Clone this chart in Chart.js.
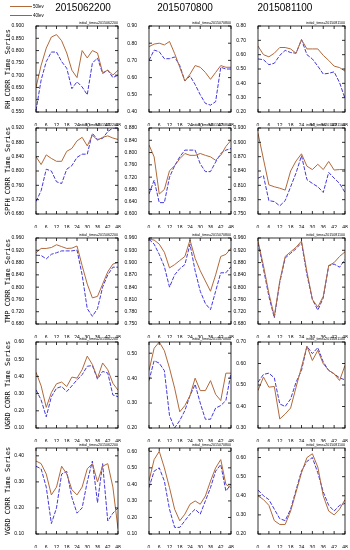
<!DOCTYPE html>
<html>
<head>
<meta charset="utf-8">
<script src="https://cdn.jsdelivr.net/npm/chart.js@4.4.1/dist/chart.umd.min.js"></script>
<style>
  body { margin: 0; background: #fff; width: 350px; height: 550px; position: relative; overflow: hidden; font-family: "Liberation Sans", Arial, sans-serif; }
  canvas { position: absolute; }
  .coltitle { position: absolute; top: 2px; font-size: 10px; color: #000; transform: translateX(-50%); white-space: nowrap; }
  .rowtitle { position: absolute; left: 8px; font-family: "DejaVu Sans Mono", monospace; font-size: 7px; color: #000; white-space: nowrap; transform: translate(-50%, -50%) rotate(-90deg); }
</style>
</head>
<body>
<canvas id="legend" width="60" height="22" style="left:0;top:0"></canvas>

<script>
// forecast hours and axis ticks
const hours = [0, 3, 6, 9, 12, 15, 18, 21, 24, 27, 30, 33, 36, 39, 42, 45, 48];
const hourTicks = [0, 6, 12, 18, 24, 30, 36, 42, 48];
const initTimes = ["2015062200", "2015070800", "2015081100"];
const rowNames = ["RH CORR Time Series", "SPFH CORR Time Series", "TMP CORR Time Series", "UGRD CORR Time Series", "VGRD CORR Time Series"];
const seriesNames = ["50lev", "40lev"];

// RH
const rh50_0622 = [0.65, 0.74, 0.81, 0.855, 0.865, 0.84, 0.79, 0.72, 0.69, 0.80, 0.77, 0.80, 0.79, 0.71, 0.72, 0.70, 0.72];
const rh40_0622 = [0.556, 0.68, 0.755, 0.794, 0.794, 0.755, 0.728, 0.645, 0.673, 0.652, 0.62, 0.749, 0.77, 0.707, 0.72, 0.69, 0.70];
const rh50_0708 = [0.78, 0.795, 0.80, 0.79, 0.81, 0.74, 0.66, 0.58, 0.62, 0.67, 0.66, 0.63, 0.59, 0.63, 0.67, 0.66, 0.66];
const rh40_0708 = [0.70, 0.76, 0.75, 0.71, 0.71, 0.72, 0.67, 0.58, 0.61, 0.56, 0.50, 0.45, 0.44, 0.46, 0.66, 0.65, 0.65];
const rh50_0811 = [0.66, 0.60, 0.585, 0.61, 0.65, 0.65, 0.64, 0.61, 0.705, 0.64, 0.64, 0.64, 0.595, 0.56, 0.52, 0.51, 0.485];
const rh40_0811 = [0.57, 0.565, 0.53, 0.54, 0.595, 0.63, 0.615, 0.61, 0.705, 0.60, 0.57, 0.52, 0.465, 0.47, 0.48, 0.405, 0.295];

// SPFH
const spfh50_0622 = [0.84, 0.818, 0.845, 0.835, 0.827, 0.827, 0.855, 0.863, 0.884, 0.894, 0.87, 0.90, 0.886, 0.894, 0.898, 0.892, 0.888];
const spfh40_0622 = [0.715, 0.745, 0.805, 0.80, 0.77, 0.765, 0.805, 0.815, 0.838, 0.847, 0.847, 0.905, 0.888, 0.891, 0.91, 0.92, 0.92];
const spfh50_0708 = [0.825, 0.786, 0.665, 0.68, 0.741, 0.757, 0.78, 0.797, 0.791, 0.791, 0.797, 0.791, 0.786, 0.775, 0.791, 0.82, 0.84];
const spfh40_0708 = [0.665, 0.71, 0.637, 0.637, 0.72, 0.757, 0.786, 0.808, 0.808, 0.808, 0.763, 0.738, 0.738, 0.769, 0.797, 0.808, 0.813];
const spfh50_0811 = [0.919, 0.865, 0.811, 0.807, 0.804, 0.80, 0.84, 0.861, 0.876, 0.85, 0.843, 0.854, 0.843, 0.86, 0.842, 0.843, 0.843];
const spfh40_0811 = [0.825, 0.83, 0.778, 0.776, 0.767, 0.778, 0.807, 0.836, 0.872, 0.822, 0.814, 0.807, 0.795, 0.837, 0.825, 0.814, 0.795];

// TMP
const tmp50_0622 = [0.912, 0.926, 0.926, 0.929, 0.938, 0.932, 0.926, 0.927, 0.934, 0.87, 0.81, 0.765, 0.77, 0.81, 0.85, 0.875, 0.88];
const tmp40_0622 = [0.904, 0.903, 0.892, 0.907, 0.912, 0.918, 0.918, 0.918, 0.921, 0.84, 0.73, 0.705, 0.73, 0.80, 0.84, 0.865, 0.865];
const tmp50_0708 = [0.957, 0.955, 0.945, 0.925, 0.887, 0.895, 0.905, 0.915, 0.955, 0.91, 0.88, 0.855, 0.83, 0.87, 0.915, 0.92, 0.935];
const tmp40_0708 = [0.957, 0.945, 0.92, 0.89, 0.84, 0.87, 0.885, 0.895, 0.945, 0.88, 0.83, 0.80, 0.785, 0.83, 0.875, 0.875, 0.89];
const tmp50_0811 = [0.95, 0.87, 0.78, 0.705, 0.82, 0.90, 0.915, 0.93, 0.95, 0.85, 0.76, 0.735, 0.77, 0.87, 0.88, 0.90, 0.915];
const tmp40_0811 = [0.945, 0.86, 0.77, 0.70, 0.815, 0.895, 0.91, 0.925, 0.945, 0.84, 0.76, 0.725, 0.765, 0.87, 0.875, 0.865, 0.89];

// UGRD
const ugrd50_0622 = [0.424, 0.345, 0.22, 0.306, 0.357, 0.367, 0.341, 0.396, 0.39, 0.439, 0.518, 0.469, 0.39, 0.478, 0.439, 0.36, 0.32];
const ugrd40_0622 = [0.322, 0.263, 0.165, 0.282, 0.331, 0.341, 0.312, 0.345, 0.38, 0.41, 0.459, 0.463, 0.384, 0.429, 0.42, 0.292, 0.282];
const ugrd50_0708 = [0.43, 0.52, 0.545, 0.51, 0.44, 0.36, 0.265, 0.29, 0.33, 0.40, 0.35, 0.35, 0.39, 0.335, 0.31, 0.42, 0.42];
const ugrd40_0708 = [0.39, 0.47, 0.46, 0.43, 0.25, 0.20, 0.23, 0.27, 0.33, 0.375, 0.30, 0.235, 0.235, 0.28, 0.29, 0.31, 0.42];
const ugrd50_0811 = [0.474, 0.537, 0.49, 0.493, 0.342, 0.365, 0.393, 0.49, 0.583, 0.68, 0.614, 0.661, 0.599, 0.568, 0.552, 0.521, 0.591];
const ugrd40_0811 = [0.513, 0.549, 0.555, 0.533, 0.412, 0.40, 0.435, 0.513, 0.568, 0.68, 0.646, 0.674, 0.607, 0.568, 0.552, 0.533, 0.524];

// VGRD
const vgrd50_0622 = [0.38, 0.37, 0.33, 0.25, 0.28, 0.36, 0.33, 0.27, 0.25, 0.28, 0.35, 0.37, 0.30, 0.36, 0.37, 0.28, 0.12];
const vgrd40_0622 = [0.36, 0.35, 0.28, 0.14, 0.20, 0.33, 0.34, 0.24, 0.18, 0.20, 0.30, 0.38, 0.22, 0.37, 0.15, 0.18, 0.20];
const vgrd50_0708 = [0.42, 0.55, 0.60, 0.50, 0.38, 0.25, 0.18, 0.22, 0.28, 0.30, 0.28, 0.33, 0.42, 0.50, 0.55, 0.40, 0.38];
const vgrd40_0708 = [0.38, 0.48, 0.50, 0.42, 0.25, 0.14, 0.14, 0.18, 0.22, 0.25, 0.22, 0.30, 0.38, 0.48, 0.52, 0.36, 0.40];
const vgrd50_0811 = [0.40, 0.38, 0.35, 0.27, 0.25, 0.25, 0.32, 0.42, 0.52, 0.60, 0.62, 0.55, 0.40, 0.32, 0.30, 0.33, 0.38];
const vgrd40_0811 = [0.43, 0.40, 0.38, 0.33, 0.28, 0.27, 0.33, 0.43, 0.53, 0.58, 0.60, 0.52, 0.42, 0.35, 0.32, 0.35, 0.36];

// y tick labels for each panel
const rhTicks_0622 = [0.55, 0.60, 0.65, 0.70, 0.75, 0.80, 0.85, 0.90];
const rhTicks_0708 = [0.40, 0.50, 0.60, 0.70, 0.80, 0.90];
const rhTicks_0811 = [0.20, 0.30, 0.40, 0.50, 0.60, 0.70, 0.80];
const spfhTicks_0622 = [0.68, 0.72, 0.76, 0.80, 0.84, 0.88, 0.92];
const spfhTicks_0708 = [0.60, 0.64, 0.68, 0.72, 0.76, 0.80, 0.84, 0.88];
const spfhTicks_0811 = [0.75, 0.78, 0.81, 0.84, 0.87, 0.90, 0.93];
const tmpTicks_0622 = [0.68, 0.72, 0.76, 0.80, 0.84, 0.88, 0.92, 0.96];
const tmpTicks_0708 = [0.75, 0.78, 0.81, 0.84, 0.87, 0.90, 0.93, 0.96];
const tmpTicks_0811 = [0.68, 0.72, 0.76, 0.80, 0.84, 0.88, 0.92, 0.96];
const ugrdTicks_0622 = [0.10, 0.20, 0.30, 0.40, 0.50, 0.60];
const ugrdTicks_0708 = [0.20, 0.30, 0.40, 0.50];
const ugrdTicks_0811 = [0.30, 0.40, 0.50, 0.60, 0.70];
const vgrdTicks_0622 = [0.10, 0.20, 0.30, 0.40];
const vgrdTicks_0708 = [0.10, 0.20, 0.30, 0.40, 0.50, 0.60];
const vgrdTicks_0811 = [0.20, 0.30, 0.40, 0.50, 0.60];

const brown = "#b0693a";
const blue = "#4238dc";
const magenta = "#e020e0";

// plot boxes (page pixels)
const colBox = [{ left: 36, width: 82 }, { left: 149, width: 82 }, { left: 258, width: 87 }];
const rowTop = [26, 128, 238, 342, 448];
const plotH = 86;
const colTitleX = [83, 185, 285];

const panels = [
  { r: 0, c: 0, a: rh50_0622, b: rh40_0622, min: 0.55, max: 0.90, ticks: rhTicks_0622, dec: 3 },
  { r: 0, c: 1, a: rh50_0708, b: rh40_0708, min: 0.40, max: 0.90, ticks: rhTicks_0708, dec: 2 },
  { r: 0, c: 2, a: rh50_0811, b: rh40_0811, min: 0.20, max: 0.80, ticks: rhTicks_0811, dec: 2 },
  { r: 1, c: 0, a: spfh50_0622, b: spfh40_0622, min: 0.68, max: 0.92, ticks: spfhTicks_0622, dec: 3 },
  { r: 1, c: 1, a: spfh50_0708, b: spfh40_0708, min: 0.60, max: 0.88, ticks: spfhTicks_0708, dec: 3 },
  { r: 1, c: 2, a: spfh50_0811, b: spfh40_0811, min: 0.75, max: 0.93, ticks: spfhTicks_0811, dec: 3 },
  { r: 2, c: 0, a: tmp50_0622, b: tmp40_0622, min: 0.68, max: 0.96, ticks: tmpTicks_0622, dec: 3 },
  { r: 2, c: 1, a: tmp50_0708, b: tmp40_0708, min: 0.75, max: 0.96, ticks: tmpTicks_0708, dec: 3 },
  { r: 2, c: 2, a: tmp50_0811, b: tmp40_0811, min: 0.68, max: 0.96, ticks: tmpTicks_0811, dec: 3 },
  { r: 3, c: 0, a: ugrd50_0622, b: ugrd40_0622, min: 0.10, max: 0.60, ticks: ugrdTicks_0622, dec: 2 },
  { r: 3, c: 1, a: ugrd50_0708, b: ugrd40_0708, min: 0.20, max: 0.545, ticks: ugrdTicks_0708, dec: 2 },
  { r: 3, c: 2, a: ugrd50_0811, b: ugrd40_0811, min: 0.30, max: 0.70, ticks: ugrdTicks_0811, dec: 2 },
  { r: 4, c: 0, a: vgrd50_0622, b: vgrd40_0622, min: 0.10, max: 0.43, ticks: vgrdTicks_0622, dec: 2 },
  { r: 4, c: 1, a: vgrd50_0708, b: vgrd40_0708, min: 0.10, max: 0.62, ticks: vgrdTicks_0708, dec: 2 },
  { r: 4, c: 2, a: vgrd50_0811, b: vgrd40_0811, min: 0.20, max: 0.65, ticks: vgrdTicks_0811, dec: 2 },
];

// frame with inward ticks on all four sides + initial_time note
const framePlugin = {
  id: "frame",
  afterDatasetsDraw(chart, args, opts) {
    const { ctx, chartArea: a, scales } = chart;
    ctx.save();
    ctx.strokeStyle = "#000";
    ctx.lineWidth = 0.8;
    ctx.strokeRect(a.left, a.top, a.right - a.left, a.bottom - a.top);
    ctx.beginPath();
    scales.x.ticks.forEach(t => {
      const x = scales.x.getPixelForValue(t.value);
      ctx.moveTo(x, a.bottom); ctx.lineTo(x, a.bottom - 3);
      ctx.moveTo(x, a.top); ctx.lineTo(x, a.top + 3);
    });
    scales.y.ticks.forEach(t => {
      const y = scales.y.getPixelForValue(t.value);
      ctx.moveTo(a.left, y); ctx.lineTo(a.left + 3, y);
      ctx.moveTo(a.right, y); ctx.lineTo(a.right - 3, y);
    });
    ctx.stroke();
    ctx.fillStyle = "#000";
    ctx.font = "3.6px 'Liberation Sans', Arial, sans-serif";
    ctx.textAlign = "right";
    ctx.textBaseline = "bottom";
    ctx.fillText("initial_time=" + opts.init, a.right, a.top - 1);
    ctx.restore();
  }
};

panels.forEach(p => {
  const box = colBox[p.c];
  const cv = document.createElement("canvas");
  const padL = 36, padT = 10, padR = 8, padB = 14;
  cv.width = box.width + padL + padR;
  cv.height = plotH + padT + padB;
  cv.style.left = (box.left - padL) + "px";
  cv.style.top = (rowTop[p.r] - padT) + "px";
  document.body.appendChild(cv);

  new Chart(cv.getContext("2d"), {
    type: "line",
    data: {
      datasets: [
        {
          label: seriesNames[0],
          data: hours.map((h, i) => ({ x: h, y: p.a[i] })),
          borderColor: brown,
          borderWidth: 1,
          pointRadius: 0,
          tension: 0,
        },
        {
          label: seriesNames[1],
          data: hours.map((h, i) => ({ x: h, y: p.b[i] })),
          borderColor: blue,
          borderWidth: 1,
          borderDash: [4, 1.5],
          pointRadius: 0,
          tension: 0,
        },
      ],
    },
    options: {
      responsive: false,
      animation: false,
      devicePixelRatio: 1,
      layout: { padding: { top: padT, right: padR, left: 0, bottom: 0 } },
      plugins: {
        legend: { display: false },
        tooltip: { enabled: false },
        frame: { init: initTimes[p.c] },
      },
      scales: {
        x: {
          type: "linear",
          min: 0,
          max: 48,
          afterBuildTicks: s => { s.ticks = hourTicks.map(v => ({ value: v })); },
          afterFit: s => { s.height = padB; },
          grid: { display: false },
          border: { display: false },
          ticks: { font: { size: 5 }, color: "#000", padding: 3, maxRotation: 0 },
        },
        y: {
          min: p.min,
          max: p.max,
          afterBuildTicks: s => { s.ticks = p.ticks.map(v => ({ value: v })); },
          afterFit: s => { s.width = padL; },
          grid: { display: false },
          border: { display: false },
          ticks: { font: { size: 5 }, color: "#000", padding: 4, callback: v => v.toFixed(p.dec) },
        },
      },
    },
    plugins: [framePlugin],
  });
});

// column titles
initTimes.forEach((t, i) => {
  const d = document.createElement("div");
  d.className = "coltitle";
  d.style.left = colTitleX[i] + "px";
  d.textContent = t;
  document.body.appendChild(d);
});

// row titles
rowNames.forEach((n, i) => {
  const d = document.createElement("div");
  d.className = "rowtitle";
  d.style.top = (rowTop[i] + plotH / 2) + "px";
  d.textContent = n;
  document.body.appendChild(d);
});

// legend
const lg = document.getElementById("legend").getContext("2d");
lg.lineWidth = 1;
[[brown, 6], [magenta, 15]].forEach(([col, y], i) => {
  lg.strokeStyle = col;
  lg.beginPath();
  lg.moveTo(10, y + 0.5);
  lg.lineTo(32, y + 0.5);
  lg.stroke();
  lg.fillStyle = "#000";
  lg.font = "4.5px 'Liberation Sans', Arial, sans-serif";
  lg.textBaseline = "middle";
  lg.fillText(seriesNames[i], 33, y + 0.5);
});
</script>
</body>
</html>
